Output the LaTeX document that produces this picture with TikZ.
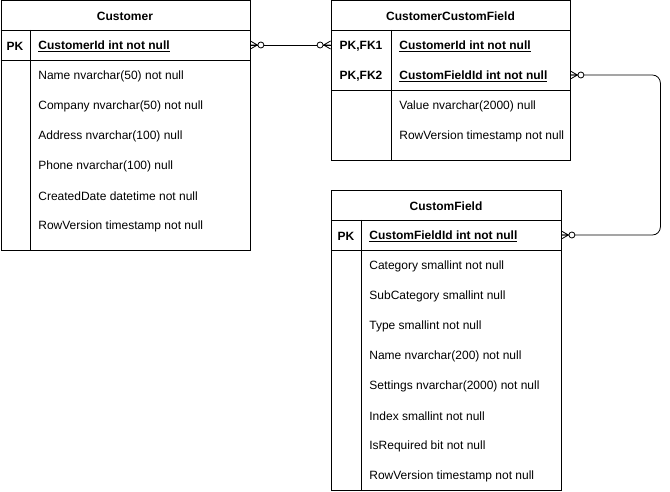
\documentclass[tikz,border=0pt]{standalone}
\usepackage{fontspec}
\setmainfont{Liberation Sans}
\usetikzlibrary{positioning, calc}

\tikzset{
	zmany/.pic={
		\draw (0,4) -- (7,0) -- (0,-4) (0,0) -- (7,0);
		\draw[fill=white] (10.5,0) circle (3);
	}
}

\begin{document}
\begin{tikzpicture}[x=1pt,y=-1pt,line width=0.8pt,font=\fontsize{12}{14}\selectfont]
	\useasboundingbox (0,0) rectangle (670,492);
	\tikzstyle{t-box}=[draw,anchor=north west,inner sep=0pt]
	\tikzstyle{t-head}=[font=\fontsize{12}{14}\selectfont\bfseries,inner sep=0pt,yshift=-1pt]
	\tikzstyle{k-node}=[font=\fontsize{12}{14}\selectfont\bfseries,inner sep=0pt,yshift=-1pt]
	\tikzstyle{f-node}=[anchor=west,inner sep=0pt,yshift=-1pt]
	\tikzstyle{kf-node}=[anchor=west,inner sep=0pt,yshift=-1pt,font=\fontsize{12}{14}\selectfont\bfseries]
	\tikzstyle{span}=[inner sep=0pt,minimum height=30pt]
	
	% Customer
	\node[t-box,minimum width=249.5pt,minimum height=249.5pt] (cust) at (0.5,0.5) {};
	\draw (0.5,30) -- (250,30) (0.5,60) -- (250,60) (30,30) -- (30,250);
	\node[t-head] (cust-h) at (125,15) {Customer};
	\node[span,minimum width=249.5pt] (cust-pk) at (125.25,45) {};
	\node[k-node] (cust-pkk) at (15,45) {PK};
	\node[kf-node] (cust-f0) at (38,45) {\underline{CustomerId int not null}};
	\node[f-node] (cust-f1) at (38,75) {Name nvarchar(50) not null};
	\node[f-node] (cust-f2) at (38,105) {Company nvarchar(50) not null};
	\node[f-node] (cust-f3) at (38,135) {Address nvarchar(100) null};
	\node[f-node] (cust-f4) at (38,165) {Phone nvarchar(100) null};
	\node[f-node] (cust-f5) at (38,195) {CreatedDate datetime not null};
	\node[f-node] (cust-f6) at (38,225) {RowVersion timestamp not null};
	
	% CustomerCustomField
	\node[t-box,minimum width=239pt,minimum height=160pt] (ccf) at (331,0.5) {};
	\draw (331,30) -- (570,30) (331,90) -- (570,90) (391,30) -- (391,160.5);
	\node[t-head] (ccf-h) at (450.5,15) {CustomerCustomField};
	\node[span,minimum width=239pt] (ccf-fk1) at (450.5,45) {};
	\node[span,minimum width=239pt] (ccf-fk2) at (450.5,75) {};
	\node[k-node] (ccf-k1) at (361,45) {PK,FK1};
	\node[k-node] (ccf-k2) at (361,75) {PK,FK2};
	\node[kf-node] (ccf-f0) at (399,45) {\underline{CustomerId int not null}};
	\node[kf-node] (ccf-f1) at (399,75) {\underline{CustomFieldId int not null}};
	\node[f-node] (ccf-f2) at (399,105) {Value nvarchar(2000) null};
	\node[f-node] (ccf-f3) at (399,135) {RowVersion timestamp not null};
	
	% CustomField
	\node[t-box,minimum width=230pt,minimum height=300pt] (cf) at (331,190) {};
	\draw (331,220) -- (561,220) (331,250) -- (561,250) (361,220) -- (361,490);
	\node[t-head] (cf-h) at (446,205) {CustomField};
	\node[span,minimum width=230pt] (cf-pk) at (446,235) {};
	\node[k-node] (cf-pkk) at (346,235) {PK};
	\node[kf-node] (cf-f0) at (369,235) {\underline{CustomFieldId int not null}};
	\node[f-node] (cf-f1) at (369,265) {Category smallint not null};
	\node[f-node] (cf-f2) at (369,295) {SubCategory smallint null};
	\node[f-node] (cf-f3) at (369,325) {Type smallint not null};
	\node[f-node] (cf-f4) at (369,355) {Name nvarchar(200) not null};
	\node[f-node] (cf-f5) at (369,385) {Settings nvarchar(2000) not null};
	\node[f-node] (cf-f6) at (369,415) {Index smallint not null};
	\node[f-node] (cf-f7) at (369,445) {IsRequired bit not null};
	\node[f-node] (cf-f8) at (369,475) {RowVersion timestamp not null};
	
	% relations
	\draw (cust-pk.east) -- (ccf-fk1.west);
	\draw[rounded corners=8pt] (ccf-fk2.east) -- ++(90,0) |- (cf-pk.east);
	\pic at (cust-pk.east) {zmany};
	\pic[rotate=180] at (ccf-fk1.west) {zmany};
	\pic at (ccf-fk2.east) {zmany};
	\pic at (cf-pk.east) {zmany};
\end{tikzpicture}
\end{document}
